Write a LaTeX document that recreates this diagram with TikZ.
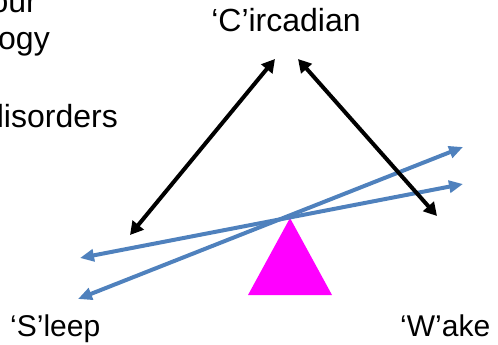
\documentclass[tikz,border=0pt]{standalone}
\usepackage{fontspec}
\setmainfont{Liberation Sans}
\usetikzlibrary{arrows.meta}
\definecolor{beamblue}{HTML}{4F81BD}
\definecolor{pivotpink}{HTML}{FF00FF}

\tikzset{
  word/.style={font=\fontsize{30}{36}\selectfont, inner sep=0pt},
  bigword/.style={font=\fontsize{32}{38}\selectfont, inner sep=0pt},
  link/.style={line width=4pt,
    {Triangle[length=13pt,width=14pt]}-{Triangle[length=13pt,width=14pt]}},
  beam/.style={draw=beamblue, line width=4pt,
    {Triangle[length=14pt,width=12pt]}-{Triangle[length=14pt,width=12pt]}}
}

\begin{document}
\begin{tikzpicture}[x=1pt,y=-1pt]
  \clip (0,0) rectangle (498,345);

  % cut-off text at the left
  \node[bigword, anchor=base east] (behav) at (37,13) {our};
  \node[bigword, anchor=base east] (biol) at (50,50) {ogy};
  \node[bigword, anchor=base east] (disord) at (118,127) {lisorders};

  % the three processes
  \node[bigword, anchor=base] (circ) at (286,32) {‘C’ircadian};
  \node[word, anchor=base west] (sleep) at (10,336) {‘S’leep};
  \node[word, anchor=base west] (wake) at (400,336) {‘W’ake};

  % fulcrum
  \coordinate (pivot) at (290,218);
  \fill[pivotpink] (pivot) -- (332,295) -- (248,295) -- cycle;

  % see-saw beams
  \coordinate (beamAl) at (80,258);
  \coordinate (beamAr) at (463,184);
  \coordinate (beamBl) at (78,299);
  \coordinate (beamBr) at (463,147);
  \draw[beam] (beamAl) -- (beamAr);
  \draw[beam] (beamBl) -- (beamBr);

  % links to circadian
  \coordinate (circL) at (275,59);
  \coordinate (circR) at (298,59);
  \coordinate (sleepT) at (130,235);
  \coordinate (wakeT) at (437,216);
  \draw[link] (sleepT) -- (circL);
  \draw[link] (circR) -- (wakeT);
\end{tikzpicture}
\end{document}
